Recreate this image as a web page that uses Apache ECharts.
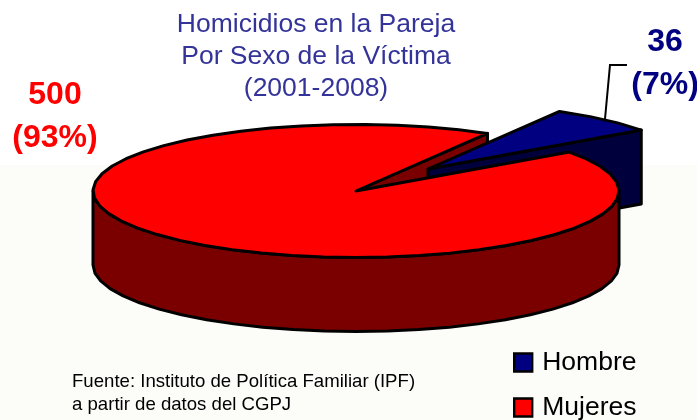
<!DOCTYPE html>
<html><head><meta charset="utf-8">
<style>html,body{margin:0;padding:0;background:#fff}#c{width:697px;height:420px}</style>
<script src="https://cdn.jsdelivr.net/npm/echarts@6/dist/echarts.min.js"></script>
</head><body><div id="c"></div>
<script>
const categories = ['Hombre', 'Mujeres'];
const values = [36, 500];
const titleLines = ['Homicidios en la Pareja', 'Por Sexo de la Víctima', '(2001-2008)'];
const sourceLines = ['Fuente: Instituto de Política Familiar (IPF)', 'a partir de datos del CGPJ'];

const total = values[0] + values[1];
const G = {cx: 356, cy: 191, rx: 263, ry: 66.5, depth: 74, start: 60, dx: 72, dy: -22, step: 7};
const pct = v => Math.round(v / total * 100);
const sweep = v => v / total * 360;
const pt = (deg, ox, oy, d) => {
  const t = deg * Math.PI / 180;
  return [G.cx + ox + G.rx * Math.cos(t), G.cy + oy - G.ry * Math.sin(t) + (d || 0)];
};
const arc = (from, to, ox, oy, d) => {
  const n = Math.max(1, Math.round(Math.abs(to - from) / G.step)), out = [];
  for (let i = 0; i <= n; i++) out.push(pt(from + (to - from) * i / n, ox, oy, d));
  return out;
};
const edge = {stroke: '#000', lineWidth: 3, lineJoin: 'round'};
const poly = (points, fill) => ({type: 'polygon', shape: {points}, style: {fill, ...edge}});

function renderWedge(params, api) {
  const p = pt(G.start, 0, 0);
  const apex = [G.cx, G.cy];
  return poly([apex, p, [p[0], p[1] + G.depth], [apex[0], apex[1] + G.depth]], '#7a0000');
}
function renderHombre(params, api) {
  const s = G.start, e = s - sweep(api.value(0));
  const apex = [G.cx + G.dx, G.cy + G.dy];
  const q = pt(e, G.dx, G.dy);
  return {type: 'group', children: [
    poly([apex, q, [q[0], q[1] + G.depth], [apex[0], apex[1] + G.depth]], '#00003c'),
    poly([apex].concat(arc(s, e, G.dx, G.dy)), '#000080')
  ]};
}
function renderMujeres(params, api) {
  const s = G.start, e = s + sweep(api.value(0));
  const topArc = arc(s, e, 0, 0);
  const wall = arc(180, 360, 0, 0).concat(arc(360, 180, 0, 0, G.depth));
  return {type: 'group', children: [
    poly(wall, '#7a0000'),
    poly([[G.cx, G.cy]].concat(topArc), '#ff0000')
  ]};
}
const label = (lines, x, y, color, size, gap) => lines.map((t, i) => ({
  type: 'text', x: x, y: y + i * gap, z: 10, silent: true,
  style: {text: t, fill: color, font: `bold ${size}px "Liberation Sans"`, align: 'center', verticalAlign: 'middle'}
}));

const chart = echarts.init(document.getElementById('c'), null, {renderer: 'canvas'});
chart.setOption({
  animation: false,
  backgroundColor: '#fff',
  title: [{
    text: titleLines.join('\n'), left: 316, top: 9, textAlign: 'center', padding: 0,
    textStyle: {color: '#333399', fontFamily: 'Liberation Sans', fontWeight: 'normal', fontSize: 26.5, lineHeight: 32}
  }, {
    text: sourceLines.join('\n'), left: 72, top: 371, padding: 0,
    textStyle: {color: '#000', fontFamily: 'Liberation Sans', fontWeight: 'normal', fontSize: 18.6, lineHeight: 22.5}
  }],
  legend: {
    data: categories, orient: 'vertical', left: 513, top: 346.5, height: 120, itemWidth: 18, itemHeight: 18, itemGap: 13,
    icon: 'rect', padding: 0, itemStyle: {borderColor: '#000', borderWidth: 2.4},
    textStyle: {color: '#000', fontFamily: 'Liberation Sans', fontSize: 26.5, lineHeight: 26, padding: [6, 0, 0, 5]}
  },
  graphic: [
    {type: 'rect', z: -10, silent: true, shape: {x: 0, y: 165, width: 697, height: 255}, style: {fill: '#fcfdf9'}},
    {type: 'polyline', z: 10, silent: true, shape: {points: [[605, 119], [610, 65], [627, 65]]}, style: {stroke: '#000', lineWidth: 2, fill: null}},
    ...label([String(values[0]), `(${pct(values[0])}%)`], 665, 42, '#000080', 32, 43),
    ...label([String(values[1]), `(${pct(values[1])}%)`], 55, 95, '#ff0000', 32, 43)
  ],
  series: [
    {type: 'custom', name: 'corte', z: 1, silent: true, coordinateSystem: 'none', data: [[values[0]]], renderItem: renderWedge},
    {type: 'custom', name: categories[0], z: 2, silent: true, coordinateSystem: 'none', data: [[values[0]]], renderItem: renderHombre,
      itemStyle: {color: '#000080', borderColor: '#000', borderWidth: 2}},
    {type: 'custom', name: categories[1], z: 3, silent: true, coordinateSystem: 'none', data: [[values[1]]], renderItem: renderMujeres,
      itemStyle: {color: '#ff0000', borderColor: '#000', borderWidth: 2}}
  ]
});
</script></body></html>
